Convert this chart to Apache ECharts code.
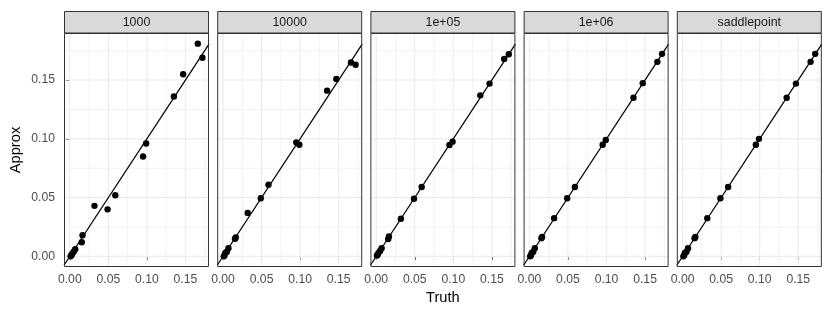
<!DOCTYPE html>
<html><head><meta charset="utf-8">
<script src="https://cdn.jsdelivr.net/npm/echarts@6/dist/echarts.min.js"></script>
<style>html,body{margin:0;padding:0;background:#fff}#c{width:830px;height:312px}</style>
</head><body><div id="c"></div>
<script>
const panels = ['1000', '10000', '1e+05', '1e+06', 'saddlepoint'];
const truth = [0.001, 0.002, 0.003, 0.005, 0.007, 0.0155, 0.0165, 0.032, 0.049, 0.059, 0.095, 0.099, 0.135, 0.147, 0.166, 0.172];
const approx1000 = [0.000, 0.001, 0.002, 0.004, 0.006, 0.012, 0.018, 0.043, 0.040, 0.052, 0.085, 0.096, 0.136, 0.155, 0.181, 0.169];
const approx10000 = [0.000, 0.001, 0.003, 0.004, 0.007, 0.015, 0.016, 0.037, 0.0495, 0.061, 0.097, 0.095, 0.141, 0.151, 0.165, 0.163];
const approx1e05 = [0.0007, 0.0015, 0.003, 0.0045, 0.007, 0.0147, 0.017, 0.032, 0.049, 0.059, 0.0947, 0.0976, 0.137, 0.147, 0.168, 0.172];
const approx1e06 = [0.000, 0.001, 0.003, 0.004, 0.007, 0.0155, 0.0165, 0.0325, 0.0495, 0.059, 0.095, 0.099, 0.135, 0.1474, 0.1655, 0.1723];
const approxSaddle = [0.000, 0.001, 0.003, 0.004, 0.007, 0.0155, 0.0165, 0.0325, 0.0495, 0.059, 0.095, 0.100, 0.135, 0.147, 0.1655, 0.1723];
const approxAll = [approx1000, approx10000, approx1e05, approx1e06, approxSaddle];
const majorTicks = [0, 0.05, 0.10, 0.15];
const minorTicks = [0.025, 0.075, 0.125, 0.175];

// ggplot-like 5% expansion of the data range
function expand(vals) {
  const lo = Math.min(...vals), hi = Math.max(...vals), d = (hi - lo) * 0.05;
  return [lo - d, hi + d];
}
const xr = expand(truth);
const yr = expand([].concat(...approxAll));

const FONT = 'Liberation Sans, Arial, Helvetica, sans-serif';
const L0 = 64, STEP = 153.2, W = 145, TOP = 33, H = 234;

const grids = [], xAxes = [], yAxes = [], series = [], graphics = [];
panels.forEach((p, i) => {
  const left = L0 + i * STEP;
  grids.push({left: left, top: TOP, width: W, height: H, show: false});
  xAxes.push({
    type: 'value', gridIndex: i, min: xr[0], max: xr[1],
    axisLine: {show: false}, splitLine: {show: false},
    axisTick: {show: true, customValues: majorTicks, length: 3.7, lineStyle: {color: '#333333', width: 1}},
    axisLabel: {show: true, customValues: majorTicks, margin: 7, color: '#4D4D4D', fontSize: 12.2, fontFamily: FONT, formatter: v => v.toFixed(2)}
  });
  yAxes.push({
    type: 'value', gridIndex: i, min: yr[0], max: yr[1],
    axisLine: {show: false}, splitLine: {show: false},
    axisTick: {show: i === 0, customValues: majorTicks, length: 3.7, lineStyle: {color: '#333333', width: 1}},
    axisLabel: {show: i === 0, customValues: majorTicks, margin: 9, color: '#4D4D4D', fontSize: 12.2, fontFamily: FONT, formatter: v => v.toFixed(2)}
  });
  const gridLine = (pts, w) => ({
    type: 'line', xAxisIndex: i, yAxisIndex: i, data: pts, silent: true, z: 1,
    symbol: 'none', showSymbol: false, lineStyle: {color: '#EBEBEB', width: w}
  });
  minorTicks.forEach(v => {
    series.push(gridLine([[v, yr[0]], [v, yr[1]]], 0.6));
    series.push(gridLine([[xr[0], v], [xr[1], v]], 0.6));
  });
  majorTicks.forEach(v => {
    series.push(gridLine([[v, yr[0]], [v, yr[1]]], 1.1));
    series.push(gridLine([[xr[0], v], [xr[1], v]], 1.1));
  });
  series.push({
    type: 'line', xAxisIndex: i, yAxisIndex: i, z: 3, silent: true, showSymbol: false, symbol: 'none',
    data: [[xr[0], xr[0]], [xr[1], xr[1]]],
    lineStyle: {color: '#000', width: 1.25}
  });
  series.push({
    type: 'scatter', xAxisIndex: i, yAxisIndex: i, z: 4, symbolSize: 6.4,
    itemStyle: {color: '#000', opacity: 1},
    data: truth.map((t, k) => [t, approxAll[i][k]])
  });
  graphics.push({type: 'rect', z: 100, shape: {x: left + 0.5, y: TOP + 0.5, width: W - 1, height: H - 1}, style: {fill: 'none', stroke: '#333333', lineWidth: 1}});
  graphics.push({type: 'rect', z: 100, shape: {x: left + 0.5, y: 11.5, width: W - 1, height: TOP - 11.5}, style: {fill: '#D9D9D9', stroke: '#333333', lineWidth: 1}});
  graphics.push({type: 'text', z: 101, x: left + W / 2, y: 22.5, style: {text: p, fill: '#1A1A1A', font: '12.4px ' + FONT, textAlign: 'center', textVerticalAlign: 'middle'}});
});
graphics.push({type: 'text', z: 101, x: L0 + (4 * STEP + W) / 2, y: 298, style: {text: 'Truth', fill: '#000', font: '14.7px ' + FONT, textAlign: 'center', textVerticalAlign: 'middle'}});
graphics.push({type: 'text', z: 101, x: 16, y: TOP + H / 2, rotation: Math.PI / 2, style: {text: 'Approx', fill: '#000', font: '14.7px ' + FONT, textAlign: 'center', textVerticalAlign: 'middle'}});

const chart = echarts.init(document.getElementById('c'), null, {renderer: 'canvas'});
chart.setOption({
  animation: false,
  backgroundColor: '#fff',
  grid: grids, xAxis: xAxes, yAxis: yAxes, series: series, graphic: graphics
});
</script></body></html>
